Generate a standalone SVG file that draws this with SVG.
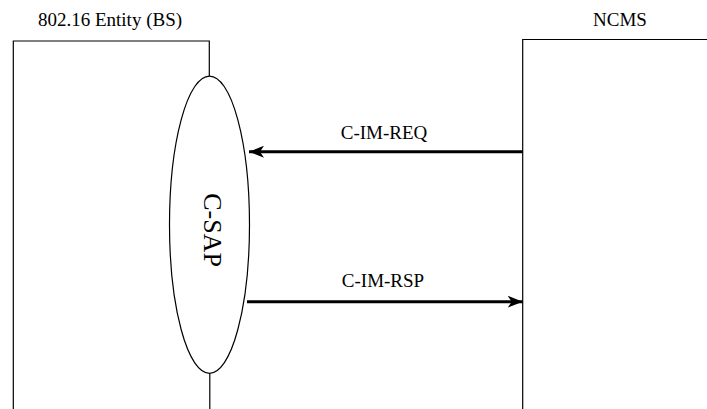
<svg xmlns="http://www.w3.org/2000/svg" width="707" height="409" viewBox="0 0 707 409">
<style>
.ln{fill:none;stroke:#000;stroke-width:1.2}
.ar{fill:none;stroke:#000;stroke-width:3}
text{font-family:"Liberation Serif","Times New Roman",serif;font-size:19px;fill:#000}
.sap{font-size:26px}
</style>
<defs>
<marker id="ah" markerUnits="userSpaceOnUse" markerWidth="16" markerHeight="12" refX="15" refY="6" orient="auto">
<path d="M0,0 L15,6 L0,12 L4,6 Z" fill="#000"/>
</marker>
</defs>
<rect width="707" height="409" fill="#fff"/>
<g id="bs">
<path class="ln" d="M13.3,409 V41 H209.3 V76"/>
<path class="ln" d="M209.8,373.3 V409"/>
<text x="110" y="26" text-anchor="middle">802.16 Entity (BS)</text>
</g>
<g id="csap">
<ellipse class="ln" cx="209.5" cy="224.7" rx="40" ry="148.6"/>
<text class="sap" x="0" y="0" text-anchor="middle" transform="translate(203.5,230) rotate(90)">C-SAP</text>
</g>
<g id="ncms">
<path class="ln" d="M522.7,409 V39.5 H707"/>
<text x="620" y="26" text-anchor="middle">NCMS</text>
</g>
<g id="connectors">
<line class="ar" x1="522.7" y1="151.7" x2="249" y2="151.7" marker-end="url(#ah)"/>
<text x="384" y="139" text-anchor="middle">C-IM-REQ</text>
<line class="ar" x1="247" y1="301.7" x2="522.7" y2="301.7" marker-end="url(#ah)"/>
<text x="383" y="287" text-anchor="middle">C-IM-RSP</text>
</g>
</svg>
